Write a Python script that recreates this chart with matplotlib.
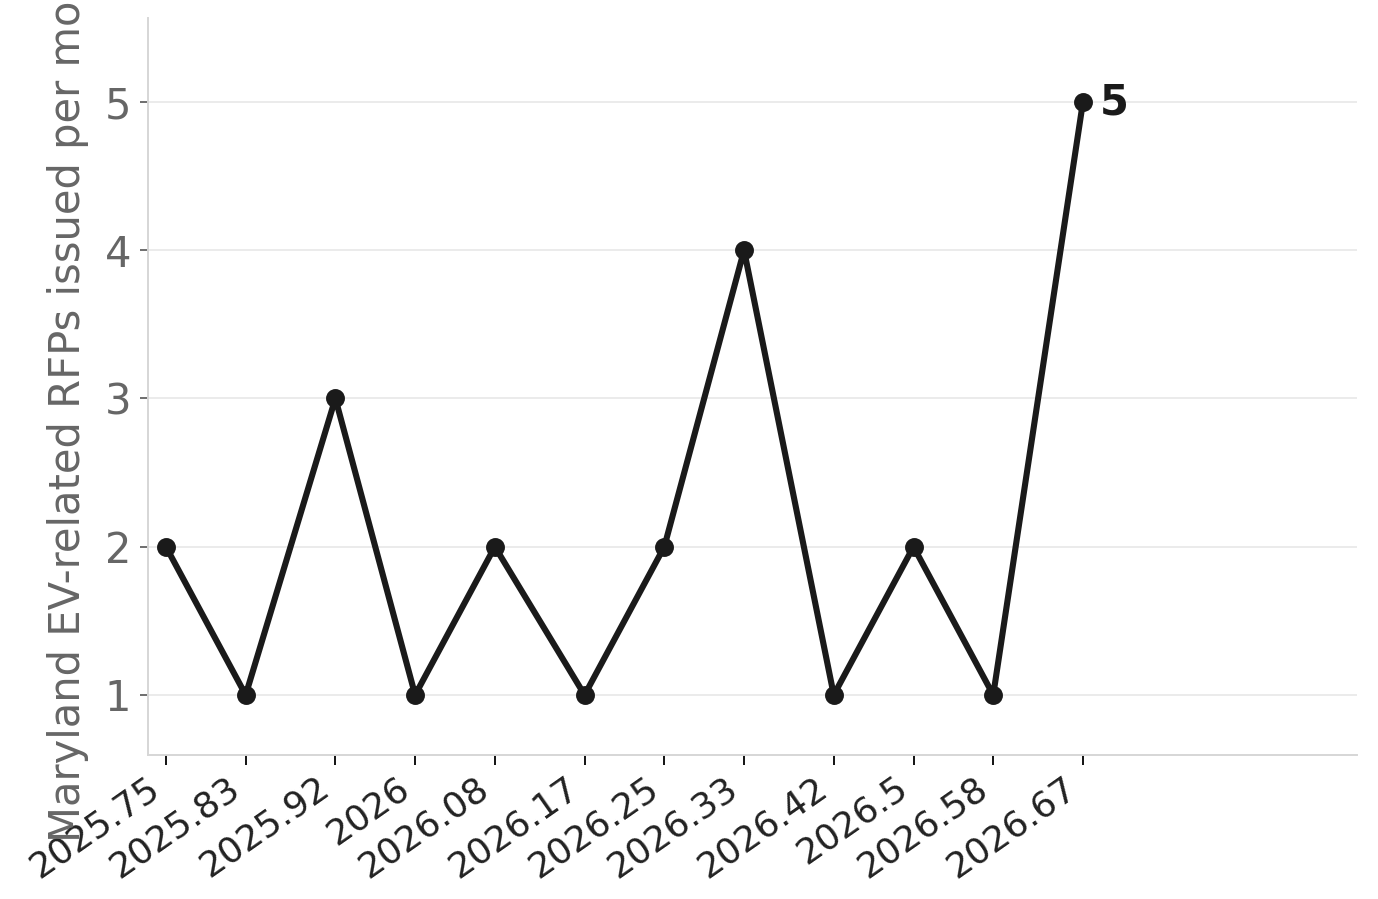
import matplotlib
matplotlib.use("Agg")
import matplotlib.pyplot as plt

x_values = [2025.75, 2025.83, 2025.92, 2026, 2026.08, 2026.17, 2026.25, 2026.33, 2026.42, 2026.5, 2026.58, 2026.67]
x_labels = ["2025.75", "2025.83", "2025.92", "2026", "2026.08", "2026.17", "2026.25", "2026.33", "2026.42", "2026.5", "2026.58", "2026.67"]
rfp_counts = [2, 1, 3, 1, 2, 1, 2, 4, 1, 2, 1, 5]
y_ticks = [1, 2, 3, 4, 5]
y_label = "Maryland EV-related RFPs issued per month"

plt.rcParams['font.family'] = ['DejaVu Sans']

fig = plt.figure(figsize=(6.89, 4.495), dpi=200)
ax = fig.add_axes([0.1074, 0.1602, 0.8774, 0.8198])

ax.plot(x_values, rfp_counts, color="#1a1a1a", lw=2.2, marker="o", ms=5.8, zorder=3)
ax.annotate(str(rfp_counts[-1]), (x_values[-1], rfp_counts[-1]), xytext=(6, 0),
            textcoords="offset points", va="center", ha="left",
            fontsize=15, fontweight="bold", color="#1a1a1a")

ax.set_xlim(2025.732, 2026.945)
ax.set_ylim(0.595, 5.567)
ax.set_xticks(x_values)
ax.set_xticklabels(x_labels, rotation=35, ha="right", fontsize=13, color="#222222")
ax.set_yticks(y_ticks)
ax.set_yticklabels([str(v) for v in y_ticks], fontsize=15, color="#666666")

ax.grid(axis="y", color="#e8e8e8", lw=0.6, zorder=0)
ax.set_axisbelow(True)
for s in ["top", "right"]:
    ax.spines[s].set_visible(False)
for s in ["left", "bottom"]:
    ax.spines[s].set_color("#d6d6d6")
    ax.spines[s].set_linewidth(0.7)

ax.tick_params(axis="y", length=3, width=0.6, color="#555555", pad=3)
ax.tick_params(axis="x", length=3.5, width=0.7, color="#111111", pad=2)

ax.set_ylabel(y_label, fontsize=15, color="#666666", labelpad=5.5)

fig.savefig("out.png", dpi=200)
